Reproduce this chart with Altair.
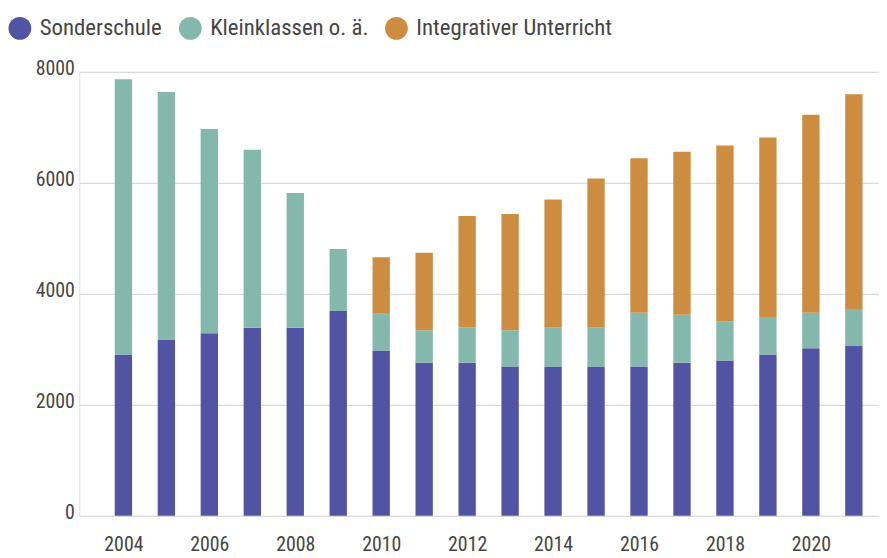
import altair as alt
import pandas as pd

years = list(range(2004, 2022))
sonderschule = [2910, 3170, 3290, 3390, 3390, 3690, 2980, 2760, 2760, 2690,
                2690, 2690, 2690, 2760, 2800, 2910, 3020, 3060]
kleinklassen = [4960, 4470, 3680, 3210, 2430, 1120, 675, 585, 635, 655,
                710, 710, 970, 865, 710, 675, 640, 670]
integrativ = [0, 0, 0, 0, 0, 0, 1005, 1395, 2010, 2095,
              2300, 2680, 2785, 2935, 3165, 3235, 3570, 3870]

series = ["Sonderschule", "Kleinklassen o. ä.", "Integrativer Unterricht"]
colors = ["#5154a2", "#84b8ac", "#cd8d41"]
x_ticks = [2004, 2006, 2008, 2010, 2012, 2014, 2016, 2018, 2020]
y_ticks = [0, 2000, 4000, 6000, 8000]

rows = []
for i, y in enumerate(years):
    for k, (name, vals) in enumerate(zip(series, [sonderschule, kleinklassen, integrativ])):
        if vals[i] > 0:
            rows.append({"Jahr": y, "Art": name, "Wert": vals[i], "idx": k})
df = pd.DataFrame(rows)

FONT = ("'Liberation Sans Narrow', 'Arial Narrow', 'Noto Sans Condensed', "
        "'Noto Sans Display Condensed', 'Roboto Condensed', 'Open Sans Condensed', "
        "'DejaVu Sans Condensed', Roboto, sans-serif")
TXT = "#444444"
FS = 20

chart = alt.Chart(df).mark_bar(size=17.5).encode(
    x=alt.X("Jahr:Q",
            scale=alt.Scale(domain=[2003.09, 2021.47], nice=False, zero=False),
            axis=alt.Axis(values=x_ticks, format="d", title=None, grid=False,
                          ticks=False, domain=False, labelPadding=19,
                          labelFontSize=FS, labelColor=TXT, labelFont=FONT)),
    y=alt.Y("Wert:Q", stack="zero",
            scale=alt.Scale(domain=[0, 8000], nice=False),
            axis=alt.Axis(values=y_ticks, format="d", title=None, grid=True,
                          gridColor="#dadada", gridWidth=1.2, ticks=False,
                          domain=False, labelPadding=5,
                          labelFontSize=FS, labelColor=TXT, labelFont=FONT,
                          labelOffset=-3)),
    color=alt.Color("Art:N",
                    scale=alt.Scale(domain=series, range=colors),
                    legend=alt.Legend(title=None, orient="none", legendX=-72, legendY=-56,
                                      direction="horizontal", symbolType="circle",
                                      symbolSize=530, symbolStrokeWidth=0,
                                      labelFontSize=23, labelColor=TXT, labelFont=FONT,
                                      labelLimit=0, labelOffset=8, columnPadding=16,
                                      padding=0)),
    order=alt.Order("idx:Q", sort="ascending"),
).properties(
    width=807, height=448,
    autosize=alt.AutoSizeParams(type="none"),
    padding={"left": 72, "top": 62, "right": 0, "bottom": 40},
).configure_view(stroke=None).configure(background="white")

chart.save("out.html", embed_options={"renderer": "svg", "actions": False})
